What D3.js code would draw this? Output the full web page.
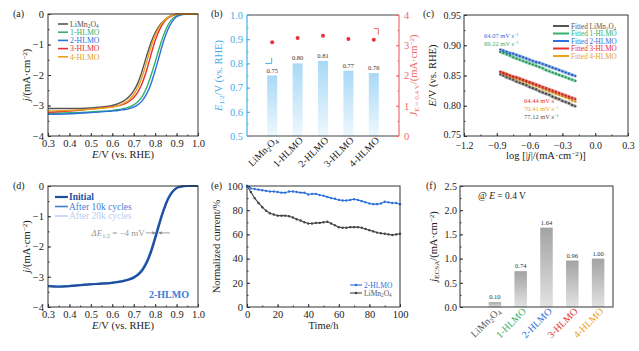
<!DOCTYPE html>
<html><head><meta charset="utf-8">
<script src="https://cdn.jsdelivr.net/npm/d3@7"></script>
<style>body{margin:0;background:#fff} text{font-family:"Liberation Serif","Times New Roman",serif}</style>
</head><body><svg id="c" width="639" height="351" font-family="Liberation Serif, serif"></svg>
<script>
// ---------------- DATA ----------------
const samples = ["LiMn2O4","1-HLMO","2-HLMO","3-HLMO","4-HLMO"];
// (a) LSV curves
const lsvE      = [0.30,0.40,0.50,0.55,0.60,0.62,0.64,0.66,0.68,0.70,0.72,0.74,0.76,0.78,0.80,0.82,0.84,0.86,0.88,0.90,0.92,0.95,1.00];
const lsvLiMn   = [-3.10,-3.10,-3.08,-3.05,-3.00,-2.96,-2.90,-2.82,-2.70,-2.52,-2.25,-1.85,-1.38,-0.95,-0.62,-0.38,-0.22,-0.11,-0.04,-0.01,0,0,0];
const lsv1HLMO  = [-3.26,-3.24,-3.21,-3.19,-3.16,-3.14,-3.12,-3.09,-3.05,-2.98,-2.87,-2.70,-2.42,-2.03,-1.58,-1.10,-0.68,-0.36,-0.16,-0.06,-0.02,0,0];
const lsv2HLMO  = [-3.29,-3.27,-3.23,-3.21,-3.18,-3.17,-3.15,-3.13,-3.10,-3.05,-2.97,-2.84,-2.62,-2.30,-1.86,-1.36,-0.88,-0.50,-0.24,-0.09,-0.03,0,0];
const lsv3HLMO  = [-3.22,-3.18,-3.12,-3.08,-3.04,-3.02,-2.99,-2.94,-2.86,-2.74,-2.55,-2.26,-1.85,-1.35,-0.88,-0.52,-0.28,-0.13,-0.05,-0.01,0,0,0];
const lsv4HLMO  = [-3.18,-3.16,-3.12,-3.09,-3.05,-3.02,-2.97,-2.90,-2.80,-2.64,-2.40,-2.05,-1.58,-1.10,-0.70,-0.42,-0.23,-0.11,-0.04,-0.01,0,0,0];
// (b) half-wave potentials and J at 0.4 V
const halfWave  = [0.75,0.80,0.81,0.77,0.76];
const jAt04     = [3.10,3.24,3.31,3.21,3.18];
// (c) Tafel
const tafelX    = [-0.87,-0.84,-0.81,-0.78,-0.75,-0.72,-0.69,-0.66,-0.63,-0.60,-0.57,-0.54,-0.51,-0.48,-0.45,-0.42,-0.39,-0.36,-0.33,-0.30,-0.27,-0.24,-0.21,-0.18];
const tafelLiMn = [0.852,0.850,0.847,0.845,0.843,0.840,0.838,0.836,0.834,0.831,0.829,0.827,0.824,0.822,0.820,0.818,0.815,0.813,0.811,0.808,0.806,0.804,0.801,0.799];
const tafel1    = [0.889,0.887,0.885,0.883,0.880,0.878,0.876,0.874,0.872,0.870,0.868,0.866,0.864,0.862,0.859,0.857,0.855,0.853,0.851,0.849,0.847,0.845,0.843,0.841];
const tafel2    = [0.893,0.891,0.889,0.887,0.886,0.884,0.882,0.880,0.878,0.876,0.874,0.872,0.871,0.869,0.867,0.865,0.863,0.861,0.859,0.857,0.855,0.853,0.851,0.849];
const tafel3    = [0.856,0.854,0.852,0.850,0.848,0.847,0.845,0.843,0.841,0.839,0.837,0.835,0.833,0.831,0.829,0.827,0.825,0.823,0.821,0.819,0.817,0.815,0.813,0.811];
const tafel4    = [0.856,0.854,0.852,0.849,0.847,0.845,0.843,0.841,0.839,0.837,0.835,0.833,0.831,0.828,0.826,0.824,0.822,0.820,0.818,0.816,0.814,0.812,0.809,0.807];
const tafelSlopes = ["77.12","69.22","64.07","64.44","70.41"];
// (d) stability LSV
const dE        = [0.30,0.35,0.40,0.45,0.50,0.55,0.60,0.64,0.66,0.68,0.70,0.72,0.74,0.76,0.78,0.80,0.82,0.84,0.86,0.88,0.90,0.92,0.95,1.00];
const dInitial  = [-3.31,-3.33,-3.31,-3.28,-3.25,-3.23,-3.20,-3.16,-3.13,-3.09,-3.03,-2.94,-2.79,-2.55,-2.20,-1.74,-1.25,-0.80,-0.44,-0.20,-0.07,-0.02,0,0];
const d10k      = [-3.30,-3.32,-3.30,-3.27,-3.24,-3.22,-3.19,-3.15,-3.12,-3.07,-3.01,-2.91,-2.75,-2.50,-2.14,-1.68,-1.19,-0.76,-0.41,-0.18,-0.06,-0.02,0,0];
const d20k      = [-3.29,-3.31,-3.29,-3.26,-3.23,-3.21,-3.18,-3.14,-3.11,-3.06,-2.99,-2.89,-2.72,-2.46,-2.09,-1.62,-1.14,-0.72,-0.38,-0.17,-0.06,-0.01,0,0];
const dLegend   = ["Initial","After 10k cycles","After 20k cycles"];
// (e) chronoamperometry
const eTime     = [0,2.5,5,7.5,10,12.5,15,17.5,20,22.5,25,27.5,30,32.5,35,37.5,40,42.5,45,47.5,50,52.5,55,57.5,60,62.5,65,67.5,70,72.5,75,77.5,80,82.5,85,87.5,90,92.5,95,97.5,100];
const e2HLMO    = [100,98,97.5,97,96.5,96,95.5,95.5,95,94.5,94.5,95.5,95.5,95,94.5,94.5,93,93.5,93.5,92.5,92,91,90,89.5,88.5,88,88,88.5,89,88.5,87.5,86.5,85.5,85,85,85.5,87,86.5,86,86,85];
const eLiMn     = [100,95,90,86,82.5,79.5,77.5,76.5,75.5,75.5,75.5,75,74,72.5,71.5,70,69,69,69.5,69.5,70,70.5,69,67.5,66,65.5,65.5,66,66,66,65.5,64.5,63.5,62.5,61.5,61,60.5,60,59.5,60,60.5];
// (f) ECSA-normalised current
const jECSA     = [0.10,0.74,1.64,0.96,1.00];
// tick labels
const aXTicks = [0.3,0.4,0.5,0.6,0.7,0.8,0.9,1.0];
const aYTicks = [-4,-3,-2,-1,0];
const bLTicks = [0.5,0.6,0.7,0.8,0.9,1.0];
const bRTicks = [0,1,2,3,4];
const cXTicks = [-1.2,-0.9,-0.6,-0.3,0.0,0.3];
const cYTicks = [0.75,0.80,0.85,0.90,0.95];
const eTicks  = [0,20,40,60,80,100];
const fYTicks = [0,0.5,1.0,1.5,2.0,2.5];

// ---------------- STYLE ----------------
const COL = ["#555555","#33b06a","#2d6fdc","#e33030","#e8a21f"];
const FONT = "Liberation Serif";
const svg = d3.select("#c");
svg.append("rect").attr("width",639).attr("height",351).attr("fill","#fff");
const defs = svg.append("defs");

function rich(parent, parts, attrs){
  const t = parent.append("text").attr("font-family",FONT);
  for (const k in attrs) t.attr(k, attrs[k]);
  parts.forEach(p=>{
    const s = Array.isArray(p) ? p[0] : p;
    const st = (Array.isArray(p) && p[1]) ? p[1] : "";
    const flags = st.split(" ");
    const ts = t.append("tspan").text(s);
    if (flags.includes("i")) ts.attr("font-style","italic");
    if (flags.includes("bold")) ts.attr("font-weight","bold");
    if (flags.includes("sub")) ts.attr("baseline-shift","-25%").attr("font-size","68%");
    if (flags.includes("sup")) ts.attr("baseline-shift","38%").attr("font-size","68%");
  });
  return t;
}
const nameParts = n => n==="LiMn2O4" ? [["LiMn"],["2","sub"],["O"],["4","sub"]] : [[n]];
const cmParts = [["/(mA·cm"],["−2","sup"],[")"]];

function frame(p, stroke){
  svg.append("rect").attr("x",p.l).attr("y",p.t).attr("width",p.r-p.l).attr("height",p.b-p.t)
     .attr("fill","none").attr("stroke",stroke||"#333").attr("stroke-width",1);
}
function axis(gen, tr, color, fs){
  const g = svg.append("g").attr("transform",tr).call(gen).attr("font-family",FONT);
  g.select(".domain").remove();
  g.selectAll("line").attr("stroke",color||"#333");
  g.selectAll("text").attr("font-family",FONT).attr("font-size",fs||10.5).attr("fill",color||"#222");
  return g;
}
function ylabel(x, cy, parts, color, fs){
  return rich(svg, parts, {transform:`translate(${x},${cy}) rotate(-90)`, "text-anchor":"middle", "font-size":fs||10.5, fill:color||"#222"});
}
function plabel(x,y,s){ svg.append("text").attr("font-family",FONT).attr("x",x).attr("y",y).attr("font-size",10).attr("fill","#222").text(s); }

// ---------------- PANEL (a) ----------------
{
  const P = {l:48,r:198,t:14,b:136};
  const x = d3.scaleLinear([0.3,1.0],[P.l,P.r]);
  const y = d3.scaleLinear([-4,0],[P.b,P.t]);
  const curves = [lsvLiMn,lsv1HLMO,lsv2HLMO,lsv3HLMO,lsv4HLMO];
  const line = d3.line().x((d,i)=>x(lsvE[i])).y(d=>y(d)).curve(d3.curveMonotoneX);
  curves.forEach((c,k)=> svg.append("path").attr("d",line(c)).attr("fill","none").attr("stroke",COL[k]).attr("stroke-width",1.4));
  frame(P);
  axis(d3.axisBottom(x).tickValues(x.ticks(14)).tickSize(-1.5).tickFormat(""),`translate(0,${P.b})`);
  axis(d3.axisBottom(x).tickValues(aXTicks).tickSize(-3).tickPadding(4).tickFormat(d3.format(".1f")),`translate(0,${P.b})`);
  axis(d3.axisLeft(y).tickValues(d3.range(-4,0.01,0.5)).tickSize(-1.5).tickFormat(""),`translate(${P.l},0)`);
  axis(d3.axisLeft(y).tickValues(aYTicks).tickSize(-3).tickPadding(4).tickFormat(d3.format("d")),`translate(${P.l},0)`);
  rich(svg,[["E","i"],["/V (vs. RHE)"]],{x:(P.l+P.r)/2,y:158,"text-anchor":"middle","font-size":10.5,fill:"#222"});
  ylabel(30,(P.t+P.b)/2,[["j","i"]].concat(cmParts));
  plabel(13,17,"(a)");
  samples.forEach((s,k)=>{
    const yy = 24 + k*8.2;
    svg.append("line").attr("x1",58).attr("x2",68).attr("y1",yy).attr("y2",yy).attr("stroke",COL[k]).attr("stroke-width",1.6);
    rich(svg,nameParts(s),{x:70,y:yy+2.7,"font-size":7.8,fill:COL[k]});
  });
}

// ---------------- PANEL (b) ----------------
{
  const P = {l:247,r:399,t:15,b:136};
  const x = d3.scaleBand(samples,[P.l+12.5,P.r-12.5]).paddingInner(0.6).paddingOuter(0.3);
  const yL = d3.scaleLinear([0.5,1.0],[P.b,P.t]);
  const yR = d3.scaleLinear([0,4],[P.b,P.t]);
  const gr = defs.append("linearGradient").attr("id","gb").attr("x1",0).attr("x2",0).attr("y1",0).attr("y2",1);
  gr.append("stop").attr("offset","0%").attr("stop-color","#a9d9f6");
  gr.append("stop").attr("offset","100%").attr("stop-color","#eef8fe");
  const bw = 10;
  samples.forEach((s,k)=>{
    const cx = x(s)+x.bandwidth()/2;
    svg.append("rect").attr("x",cx-bw/2).attr("y",yL(halfWave[k])).attr("width",bw).attr("height",yL(0.5)-yL(halfWave[k])).attr("fill","url(#gb)");
    svg.append("text").attr("font-family",FONT).attr("x",cx).attr("y",yL(halfWave[k])-3).attr("text-anchor","middle").attr("font-size",6.5).attr("fill","#333").text(halfWave[k].toFixed(2));
    svg.append("circle").attr("cx",cx).attr("cy",yR(jAt04[k])).attr("r",2).attr("fill","#e8303a");
    rich(svg,nameParts(s),{transform:`translate(${cx+6},${P.b+5}) rotate(-45)`,"text-anchor":"end","font-size":10,fill:"#222"});
  });
  svg.append("line").attr("x1",P.l).attr("x2",P.r).attr("y1",P.t).attr("y2",P.t).attr("stroke","#444");
  svg.append("line").attr("x1",P.l).attr("x2",P.r).attr("y1",P.b).attr("y2",P.b).attr("stroke","#444");
  const BL = "#45aee8", RD = "#f06a6a";
  svg.append("line").attr("x1",P.l).attr("x2",P.l).attr("y1",P.t).attr("y2",P.b).attr("stroke",BL).attr("stroke-width",1.2);
  svg.append("line").attr("x1",P.r).attr("x2",P.r).attr("y1",P.t).attr("y2",P.b).attr("stroke",RD).attr("stroke-width",1.2);
  axis(d3.axisLeft(yL).tickValues(d3.range(0.5,1.001,0.05)).tickSize(-1.5).tickFormat(""),`translate(${P.l},0)`,BL);
  axis(d3.axisLeft(yL).tickValues(bLTicks).tickSize(-3).tickPadding(4).tickFormat(d3.format(".1f")),`translate(${P.l},0)`,BL);
  axis(d3.axisRight(yR).tickValues(d3.range(0,4.01,0.5)).tickSize(-1.5).tickFormat(""),`translate(${P.r},0)`,RD);
  axis(d3.axisRight(yR).tickValues(bRTicks).tickSize(-3).tickPadding(5).tickFormat(d3.format("d")),`translate(${P.r},0)`,RD);
  ylabel(222,(P.t+P.b)/2,[["E","i"],["1/2","sub"],["/V (vs. RHE)"]],BL);
  ylabel(417,(P.t+P.b)/2,[["J","i"],["E = 0.4 V","sub"]].concat(cmParts),RD);
  plabel(211,17,"(b)");
  const c0 = x(samples[0])+x.bandwidth()/2, c4 = x(samples[4])+x.bandwidth()/2;
  svg.append("path").attr("d",`M${c0-0.5},${yL(0.823)}V${yL(0.80)}H${c0-7}`).attr("fill","none").attr("stroke",BL).attr("stroke-width",1);
  svg.append("path").attr("d",`M${c4},${yR(3.55)}H${c4+4.5}V${yR(3.35)}`).attr("fill","none").attr("stroke",RD).attr("stroke-width",1);
}

// ---------------- PANEL (c) ----------------
{
  const P = {l:464,r:628,t:15,b:136};
  const x = d3.scaleLinear([-1.2,0.3],[P.l,P.r]);
  const y = d3.scaleLinear([0.75,0.95],[P.b,P.t]);
  const series = [tafelLiMn,tafel1,tafel2,tafel3,tafel4];
  const line = d3.line().x((d,i)=>x(tafelX[i])).y(d=>y(d));
  [0,4,3,1,2].forEach(k=>{
    svg.append("path").attr("d",line(series[k])).attr("fill","none").attr("stroke",COL[k]).attr("stroke-width",3.2).attr("stroke-opacity",0.55);
    svg.selectAll(null).data(series[k]).enter().append("circle")
      .attr("cx",(d,i)=>x(tafelX[i])).attr("cy",d=>y(d)).attr("r",1.1).attr("fill",d3.color(COL[k]).darker(0.6));
  });
  frame(P);
  axis(d3.axisBottom(x).tickValues(d3.range(-1.2,0.31,0.15)).tickSize(-1.5).tickFormat(""),`translate(0,${P.b})`);
  axis(d3.axisBottom(x).tickValues(cXTicks).tickSize(-3).tickPadding(6).tickFormat(d3.format(".1f")),`translate(0,${P.b})`,null,10);
  axis(d3.axisLeft(y).tickValues(d3.range(0.75,0.951,0.025)).tickSize(-1.5).tickFormat(""),`translate(${P.l},0)`);
  const yAx = axis(d3.axisLeft(y).tickValues(cYTicks).tickSize(-3).tickPadding(3).tickFormat(d3.format(".2f")),`translate(${P.l},0)`,null,10);
  yAx.selectAll("text").filter(d=>d===0.75).attr("dy","0.1em");
  rich(svg,[["log [|"],["j","i"],["|/(mA·cm"],["−2","sup"],[")]"]],{x:(P.l+P.r)/2,y:159,"text-anchor":"middle","font-size":10.5,fill:"#222"});
  ylabel(436,(P.t+P.b)/2,[["E","i"],["/V (vs. RHE)"]]);
  plabel(423,17,"(c)");
  samples.forEach((s,k)=>{
    const yy = 26 + k*7.5;
    svg.append("line").attr("x1",553).attr("x2",569).attr("y1",yy).attr("y2",yy).attr("stroke",COL[k]).attr("stroke-width",2);
    rich(svg,[["Fitted "]].concat(nameParts(s)),{x:571,y:yy+2.5,"font-size":7.2,fill:COL[k]});
  });
  const slopeLabel = (k,xx,yy)=> rich(svg,[[tafelSlopes[k]+" mV s"],["−1","sup"]],{x:xx,y:yy,"font-size":6.5,fill:COL[k]});
  slopeLabel(2,484,38); slopeLabel(1,484,46);
  slopeLabel(3,524,103); slopeLabel(4,524,111); slopeLabel(0,524,119);
}

// ---------------- PANEL (d) ----------------
{
  const P = {l:48,r:198,t:186,b:307};
  const x = d3.scaleLinear([0.3,1.0],[P.l,P.r]);
  const y = d3.scaleLinear([-4,0],[P.b,P.t]);
  const line = d3.line().x((d,i)=>x(dE[i])).y(d=>y(d)).curve(d3.curveMonotoneX);
  const dCol = ["#1f4f9e","#3f7fd6","#b5cff2"];
  const dW = [2.2,1.6,1.4];
  [d20k,d10k,dInitial].forEach((c,j)=>{
    const k = 2-j;
    svg.append("path").attr("d",line(c)).attr("fill","none").attr("stroke",dCol[k]).attr("stroke-width",dW[k]);
  });
  frame(P);
  axis(d3.axisBottom(x).tickValues(x.ticks(14)).tickSize(-1.5).tickFormat(""),`translate(0,${P.b})`);
  axis(d3.axisBottom(x).tickValues(aXTicks).tickSize(-3).tickPadding(4).tickFormat(d3.format(".1f")),`translate(0,${P.b})`);
  axis(d3.axisLeft(y).tickValues(d3.range(-4,0.01,0.5)).tickSize(-1.5).tickFormat(""),`translate(${P.l},0)`);
  axis(d3.axisLeft(y).tickValues(aYTicks).tickSize(-3).tickPadding(4).tickFormat(d3.format("d")),`translate(${P.l},0)`);
  rich(svg,[["E","i"],["/V (vs. RHE)"]],{x:(P.l+P.r)/2,y:329,"text-anchor":"middle","font-size":10.5,fill:"#222"});
  ylabel(30,(P.t+P.b)/2,[["j","i"]].concat(cmParts));
  plabel(13,189,"(d)");
  dLegend.forEach((s,k)=>{
    const yy = 197 + k*9.5;
    svg.append("line").attr("x1",55).attr("x2",68).attr("y1",yy).attr("y2",yy).attr("stroke",dCol[k]).attr("stroke-width",dW[k]);
    svg.append("text").attr("font-family",FONT).attr("x",69).attr("y",yy+3.3).attr("font-size",9.5).attr("font-weight",k===0?"bold":"normal").attr("fill",dCol[k]).text(s);
  });
  const cx = x(0.808), cy = y(-1.55);
  rich(svg,[["ΔE","i"],["1/2","sub"],[" = −4 mV"]],{x:cx-12,y:cy+3,"text-anchor":"end","font-size":9,fill:"#999"});
  svg.append("line").attr("x1",cx-11).attr("x2",cx-1.5).attr("y1",cy).attr("y2",cy).attr("stroke","#888").attr("stroke-width",0.8);
  svg.append("path").attr("d",`M${cx-1},${cy}l-3.5,-1.6v3.2z`).attr("fill","#888");
  svg.append("line").attr("x1",cx+13).attr("x2",cx+2).attr("y1",cy).attr("y2",cy).attr("stroke","#888").attr("stroke-width",0.8);
  svg.append("path").attr("d",`M${cx+1.5},${cy}l3.5,-1.6v3.2z`).attr("fill","#888");
  svg.append("text").attr("font-family",FONT).attr("x",169).attr("y",298).attr("text-anchor","middle").attr("font-size",10).attr("font-weight","bold").attr("fill","#3a7bd5").text("2-HLMO");
}

// ---------------- PANEL (e) ----------------
{
  const P = {l:247,r:400,t:186,b:307};
  const x = d3.scaleLinear([0,100],[P.l,P.r]);
  const y = d3.scaleLinear([0,100],[P.b,P.t]);
  const line = d3.line().x((d,i)=>x(eTime[i])).y(d=>y(d));
  const eCol = ["#2d6fdc","#444444"];
  [eLiMn,e2HLMO].forEach((c,j)=>{
    const k = 1-j;
    svg.append("path").attr("d",line(c)).attr("fill","none").attr("stroke",eCol[k]).attr("stroke-width",1.1);
    svg.selectAll(null).data(c).enter().append("circle").attr("cx",(d,i)=>x(eTime[i])).attr("cy",d=>y(d)).attr("r",1.2).attr("fill",eCol[k]);
  });
  frame(P);
  axis(d3.axisBottom(x).tickValues(d3.range(0,101,10)).tickSize(-1.5).tickFormat(""),`translate(0,${P.b})`);
  axis(d3.axisBottom(x).tickValues(eTicks).tickSize(-3).tickPadding(4).tickFormat(d3.format("d")),`translate(0,${P.b})`);
  axis(d3.axisLeft(y).tickValues(d3.range(0,101,10)).tickSize(-1.5).tickFormat(""),`translate(${P.l},0)`);
  axis(d3.axisLeft(y).tickValues(eTicks).tickSize(-3).tickPadding(4).tickFormat(d3.format("d")),`translate(${P.l},0)`);
  svg.append("text").attr("font-family",FONT).attr("x",(P.l+P.r)/2).attr("y",329).attr("text-anchor","middle").attr("font-size",10.5).attr("fill","#222").text("Time/h");
  ylabel(220,(P.t+P.b)/2,[["Normalized current/%"]]);
  plabel(211,189,"(e)");
  const leg = ["2-HLMO","LiMn2O4"];
  leg.forEach((s,k)=>{
    const yy = 285 + k*8;
    svg.append("line").attr("x1",350).attr("x2",362).attr("y1",yy).attr("y2",yy).attr("stroke",eCol[k]).attr("stroke-width",1.1);
    svg.append("circle").attr("cx",356).attr("cy",yy).attr("r",1.3).attr("fill",eCol[k]);
    rich(svg,nameParts(s),{x:364,y:yy+2.5,"font-size":7.5,fill:k===0?eCol[0]:"#555"});
  });
}

// ---------------- PANEL (f) ----------------
{
  const P = {l:460,r:613,t:186,b:307};
  const x = d3.scaleBand(samples,[482,611]).paddingInner(0.5).paddingOuter(0.25);
  const y = d3.scaleLinear([0,2.5],[P.b,P.t]);
  const gr = defs.append("linearGradient").attr("id","gf").attr("x1",0).attr("x2",0).attr("y1",0).attr("y2",1);
  gr.append("stop").attr("offset","0%").attr("stop-color","#a3a3a3");
  gr.append("stop").attr("offset","100%").attr("stop-color","#e2e2e2");
  const bw = 12.5;
  samples.forEach((s,k)=>{
    const cx = x(s)+x.bandwidth()/2;
    svg.append("rect").attr("x",cx-bw/2).attr("y",y(jECSA[k])).attr("width",bw).attr("height",y(0)-y(jECSA[k])).attr("fill","url(#gf)");
    svg.append("text").attr("font-family",FONT).attr("x",cx).attr("y",y(jECSA[k])-3).attr("text-anchor","middle").attr("font-size",6.5).attr("fill","#333").text(jECSA[k].toFixed(2));
    rich(svg,nameParts(s),{transform:`translate(${cx+6},${P.b+5}) rotate(-45)`,"text-anchor":"end","font-size":10,fill:COL[k]});
  });
  frame(P);
  axis(d3.axisLeft(y).tickValues(d3.range(0,2.51,0.25)).tickSize(-1.5).tickFormat(""),`translate(${P.l},0)`);
  axis(d3.axisLeft(y).tickValues(fYTicks).tickSize(-3).tickPadding(3).tickFormat(d3.format(".1f")),`translate(${P.l},0)`,null,10);
  ylabel(437,(P.t+P.b)/2,[["j","i"],["ECSA","sub"]].concat(cmParts));
  rich(svg,[["@ "],["E","i"],[" = 0.4 V"]],{x:478,y:199,"font-size":9.5,fill:"#222"});
  plabel(426,189,"(f)");
}
</script></body></html>
